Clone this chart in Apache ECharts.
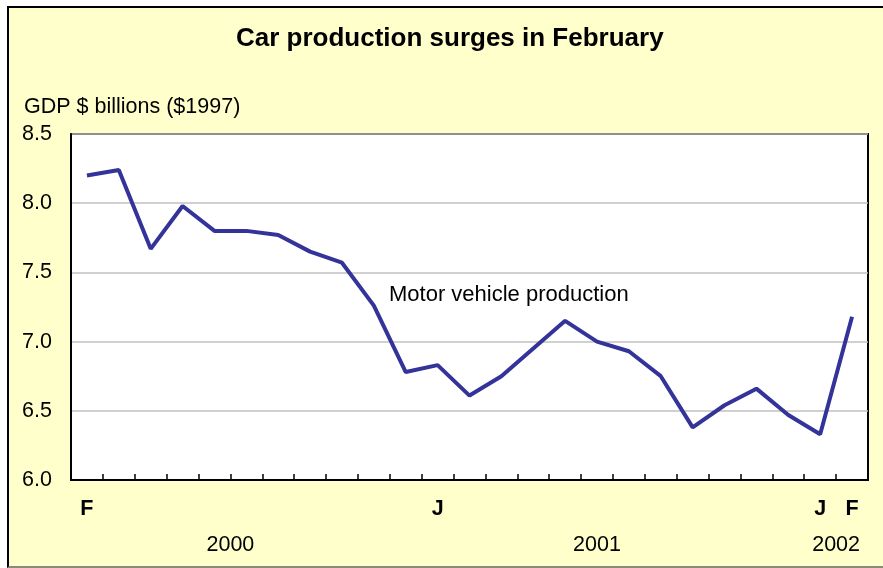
<!DOCTYPE html>
<html>
<head>
<meta charset="utf-8">
<script src="https://cdn.jsdelivr.net/npm/echarts@6/dist/echarts.min.js"></script>
<style>
  html, body { margin: 0; padding: 0; background: #ffffff; }
  #frame { position: absolute; left: 7px; top: 6px; width: 884px; height: 558px;
           background: #FFFFCC; border-top: 2px solid #000; border-left: 2px solid #000;
           border-bottom: 2px solid #8a8a7a; }
  #chart { position: absolute; left: 0; top: 0; width: 883px; height: 568px; }
</style>
</head>
<body>
<div id="frame"></div>
<div id="chart"></div>
<script>
// Months Feb 2000 .. Feb 2002
const months = ['Feb 2000','Mar 2000','Apr 2000','May 2000','Jun 2000','Jul 2000','Aug 2000','Sep 2000','Oct 2000','Nov 2000','Dec 2000',
                'Jan 2001','Feb 2001','Mar 2001','Apr 2001','May 2001','Jun 2001','Jul 2001','Aug 2001','Sep 2001','Oct 2001','Nov 2001','Dec 2001',
                'Jan 2002','Feb 2002'];
const monthTickLabels = ['F','','','','','','','','','','','J','','','','','','','','','','','','J','F'];
const production = [8.20, 8.24, 7.67, 7.98, 7.80, 7.80, 7.77, 7.65, 7.57, 7.26, 6.78, 6.83,
                    6.61, 6.75, 6.95, 7.15, 7.00, 6.93, 6.75, 6.38, 6.54, 6.66, 6.47, 6.33, 7.18];
const yearNames = ['2000', '2001', '2002'];
const yearPositions = [5, 16.5, 24];   // positions in month units along the axis
const yTicks = [6.0, 6.5, 7.0, 7.5, 8.0, 8.5];

const FONT = '"Liberation Sans", Arial, sans-serif';
const chart = echarts.init(document.getElementById('chart'), null, { renderer: 'canvas' });

chart.setOption({
  backgroundColor: 'transparent',
  animation: false,
  title: [
    { text: 'Car production surges in February', left: 231, top: 21,
      textStyle: { fontFamily: FONT, fontSize: 26, fontWeight: 'bold', color: '#000' } },
    { text: 'GDP $ billions ($1997)', left: 19, top: 91,
      textStyle: { fontFamily: FONT, fontSize: 21.5, fontWeight: 'normal', color: '#000' } }
  ],
  grid: { left: 71, right: 15, top: 134, bottom: 88, show: true,
          backgroundColor: '#ffffff', borderColor: '#000', borderWidth: 2 },
  xAxis: [
    {
      type: 'category', data: months, boundaryGap: true,
      axisLine: { show: true, lineStyle: { color: '#000', width: 2 } },
      axisTick: { show: true, inside: true, length: 6, interval: 0, lineStyle: { color: '#000', width: 1.5 } },
      axisLabel: { interval: 0, margin: 18, fontFamily: FONT, fontSize: 21.5, fontWeight: 'bold', color: '#000',
                   formatter: (v, i) => monthTickLabels[i] },
      splitLine: { show: false }
    },
    {
      type: 'value', min: 0, max: months.length, interval: 0.5, position: 'bottom',
      axisLine: { show: false }, axisTick: { show: false }, splitLine: { show: false },
      axisLabel: { margin: 54, fontFamily: FONT, fontSize: 21.5, color: '#000',
                   showMinLabel: true, showMaxLabel: true,
                   formatter: (v) => { const k = yearPositions.indexOf(v); return k >= 0 ? yearNames[k] : ''; } }
    }
  ],
  yAxis: {
    type: 'value', min: yTicks[0], max: yTicks[yTicks.length - 1], interval: 0.5,
    axisLine: { show: true, lineStyle: { color: '#000', width: 2 } },
    axisTick: { show: false },
    axisLabel: { margin: 19, fontFamily: FONT, fontSize: 21.5, color: '#000', formatter: (v) => v.toFixed(1) },
    splitLine: { show: true, lineStyle: { color: '#c0c0c0', width: 1.5 } }
  },
  graphic: [
    { type: 'text', left: 389, top: 284, z: 100,
      style: { text: 'Motor vehicle production', fontFamily: FONT, fontSize: 22, fill: '#000' } }
  ],
  series: [{
    type: 'line', name: 'Motor vehicle production', data: production, xAxisIndex: 0,
    symbol: 'none', smooth: false,
    lineStyle: { color: '#333399', width: 4 }
  }]
});
</script>
</body>
</html>
